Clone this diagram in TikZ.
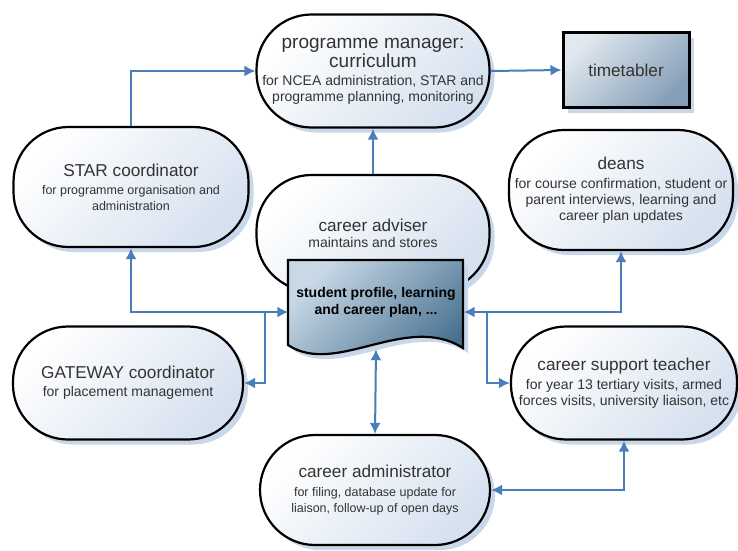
\documentclass[tikz,border=0pt]{standalone}
\usepackage{fontspec}
\setmainfont{Liberation Sans}
\usepackage{tikz}
\usetikzlibrary{shadows, arrows.meta}
\definecolor{arrowblue}{HTML}{4A7EBB}
\definecolor{pillblue}{HTML}{D6E1EF}
\definecolor{shadowblue}{HTML}{C9D7EB}
\definecolor{doclight}{HTML}{C8D8E6}
\definecolor{docdark}{HTML}{46708F}
\definecolor{ttlight}{HTML}{E1E8EF}
\definecolor{ttdark}{HTML}{869FB8}
\definecolor{textgray}{HTML}{333333}
\newcommand{\roletitle}{\fontsize{17.2}{19}\selectfont}
\newcommand{\rolebig}{\fontsize{19}{20}\selectfont}
\newcommand{\roletext}{\fontsize{14}{16}\selectfont}
\newcommand{\rolesmall}{\fontsize{12.5}{16}\selectfont}
\tikzstyle{role} = [rectangle, rounded corners=55pt, inner sep=0pt, draw=black, line width=2.2pt, top color=white, bottom color=pillblue, shading angle=45, drop shadow={shadow xshift=5pt, shadow yshift=-5pt, fill=shadowblue, opacity=1}, text=textgray, align=center, font=\roletext]
\tikzstyle{boxnode} = [rectangle, draw=black, line width=3pt, top color=ttlight, bottom color=ttdark, shading angle=45, drop shadow={shadow xshift=5pt, shadow yshift=-5pt, fill=shadowblue, opacity=1}, text=textgray, font=\roletitle]
\tikzstyle{docshape} = [draw=black, line width=2.2pt, top color=doclight, bottom color=docdark, shading angle=45, drop shadow={shadow xshift=5pt, shadow yshift=-5pt, fill=shadowblue, opacity=1}]
\tikzstyle{doctext} = [rectangle, minimum width=175pt, minimum height=84pt, align=center, text=black, font=\fontsize{14}{17}\selectfont\bfseries]
\tikzstyle{arrow} = [line width=2pt, draw=arrowblue, ->, >={Latex[length=11pt, width=11pt]}]

\begin{document}
\begin{tikzpicture}[x=1pt, y=1pt, node distance=250pt]
	\useasboundingbox (0,0) rectangle (738,-550);
	\node (adv) [role, minimum width=233pt, minimum height=116pt] at (373,-233) {\roletitle career adviser\\ \roletext maintains and stores};
	\node (pm) [role, minimum width=233pt, minimum height=113pt, above of=adv, yshift=-88pt] {\rolebig programme manager:\\ \rolebig curriculum\\[2pt] \roletext for NCEA administration, STAR and\\ \roletext programme planning, monitoring};
	\node (tt) [boxnode, minimum width=126pt, minimum height=75pt, right of=pm, xshift=3pt, yshift=1pt] {timetabler};
	\node (star) [role, minimum width=235pt, minimum height=120pt, left of=pm, xshift=8pt, yshift=-116pt] {\roletitle STAR coordinator\\[2pt] \rolesmall for programme organisation and\\ \rolesmall administration};
	\node (deans) [role, minimum width=224pt, minimum height=120pt, right of=adv, xshift=-2pt, yshift=43pt] {\roletitle deans\\[3pt] \roletext for course confirmation, student or\\ \roletext parent interviews, learning and\\ \roletext career plan updates};
	\node (gw) [role, minimum width=230pt, minimum height=113pt, left of=adv, xshift=5pt, yshift=-150pt] {\roletitle GATEWAY coordinator\\[2pt] \roletext for placement management};
	\node (cst) [role, minimum width=226pt, minimum height=113pt, right of=adv, xshift=1pt, yshift=-150pt] {\roletitle career support teacher\\[3pt] \roletext for year 13 tertiary visits, armed\\ \roletext forces visits, university liaison, etc};
	\node (cadm) [role, minimum width=230pt, minimum height=110pt, below of=adv, xshift=2pt, yshift=-7pt] {\roletitle career administrator\\[3pt] \rolesmall for filing, database update for\\ \rolesmall liaison, follow-up of open days};

	% document shape with wavy bottom
	\node (docpos) [coordinate, below of=adv, xshift=3pt, yshift=181pt] {};
	\begin{scope}[shift={(docpos)}]
		\draw [docshape] (-88,42) -- (87,42) -- (87,-46) .. controls (30,-10) and (-40,-75) .. (-88,-43) -- cycle;
	\end{scope}
	\node (doc) [doctext] at (docpos) {student profile, learning\\ and career plan, ...};

	\coordinate (jl) at ([xshift=-23pt, yshift=-10pt]doc.west);
	\coordinate (jr) at ([xshift=23pt, yshift=-10pt]doc.east);

	\draw [arrow] (star.north) |- (pm.west);
	\draw [arrow] (adv.north) -- (pm.south);
	\draw [arrow] (pm.east) -- (tt.west);
	\draw [arrow, <->] (star.south) |- ([yshift=-10pt]doc.west);
	\draw [arrow] (jl) |- (gw.east);
	\draw [arrow, <->] (deans.south) |- ([yshift=-10pt]doc.east);
	\draw [arrow] (jr) |- (cst.west);
	\draw [arrow, <->] ([yshift=-5pt]doc.south) -- (cadm.north);
	\draw [arrow, <->] (cadm.east) -| (cst.south);
\end{tikzpicture}
\end{document}
